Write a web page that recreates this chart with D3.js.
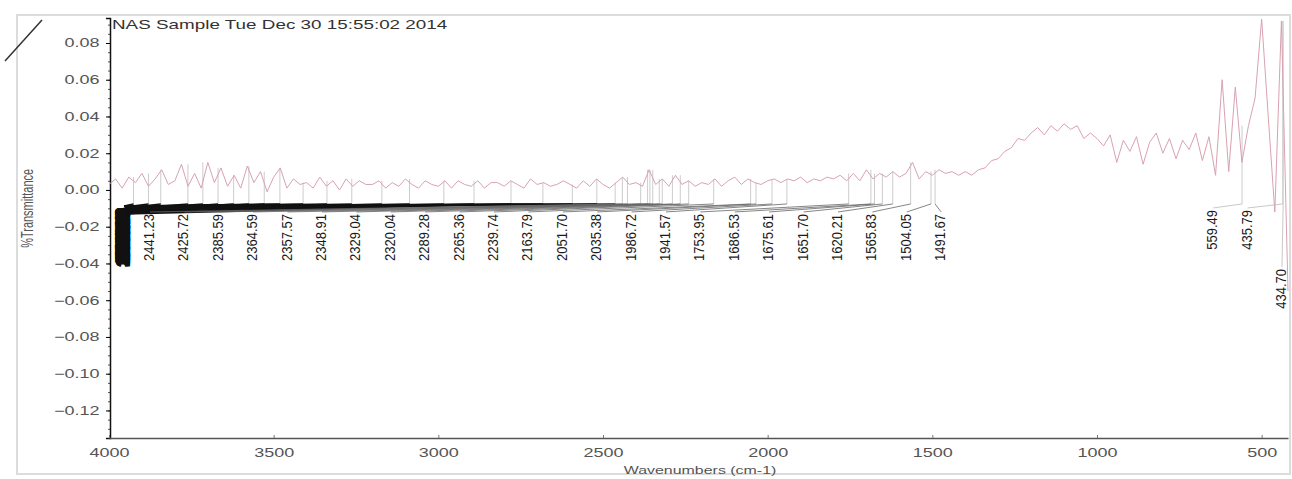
<!DOCTYPE html>
<html>
<head>
<meta charset="utf-8">
<script src="https://cdn.jsdelivr.net/npm/d3@7"></script>
<style>
  body { margin: 0; background: #fff; }
  text { font-family: "Liberation Sans", Arial, sans-serif; }
</style>
</head>
<body>
<div id="chart"></div>
<script>
// spectrum, one value every 20 cm-1 from 4000 down to 420
var wavenumbers = d3.range(4000, 419, -20);
var transmittance = [
  0.003, 0.006, 0.001, 0.007, 0.004, 0.009, 0.002, 0.006, 0.011, 0.003,
  0.005, 0.014, 0.002, 0.009, 0.001, 0.015, 0.004, 0.012, 0.002, 0.008,
  0.001, 0.013, 0.004, 0.010, -0.001, 0.007, 0.012, 0.001, 0.006, 0.003,
  0.004, 0.001, 0.007, 0.002, 0.005, 0.000, 0.006, 0.002, 0.005, 0.003,
  0.003, 0.005, 0.001, 0.004, 0.002, 0.006, 0.003, 0.001, 0.005, 0.003,
  0.002, 0.005, 0.001, 0.005, 0.003, 0.002, 0.005, 0.001, 0.004, 0.004,
  0.002, 0.005, 0.003, 0.001, 0.006, 0.003, 0.004, 0.002, 0.003, 0.005,
  0.003, 0.001, 0.005, 0.002, 0.006, 0.003, 0.001, 0.004, 0.007, 0.003,
  0.004, 0.002, 0.011, 0.003, 0.006, 0.002, 0.008, 0.003, 0.005, 0.002,
  0.004, 0.003, 0.006, 0.002, 0.005, 0.007, 0.003, 0.006, 0.004, 0.003,
  0.005, 0.006, 0.004, 0.006, 0.005, 0.007, 0.004, 0.006, 0.005, 0.007,
  0.006, 0.008, 0.005, 0.009, 0.005, 0.011, 0.006, 0.009, 0.007, 0.010,
  0.007, 0.009, 0.015, 0.006, 0.010, 0.008, 0.011, 0.009, 0.010, 0.008,
  0.010, 0.008, 0.011, 0.012, 0.016, 0.017, 0.021, 0.023, 0.028, 0.027,
  0.031, 0.034, 0.030, 0.035, 0.032, 0.036, 0.033, 0.035, 0.028, 0.031,
  0.028, 0.024, 0.030, 0.015, 0.027, 0.021, 0.029, 0.014, 0.026, 0.031,
  0.020, 0.028, 0.017, 0.027, 0.022, 0.031, 0.016, 0.029, 0.008, 0.060,
  0.010, 0.056, 0.015, 0.035, 0.050, 0.093, 0.040, -0.012, 0.092, -0.055
];

// labelled peaks
var leftPeaks = [2441.23, 2425.72, 2385.59, 2364.59, 2357.57, 2348.91, 2329.04, 2320.04,
  2289.28, 2265.36, 2239.74, 2163.79, 2051.70, 2035.38, 1986.72, 1941.57,
  1753.95, 1686.53, 1675.61, 1651.70, 1620.21, 1565.83, 1504.05, 1491.67];
var rightPeaks = [559.49, 435.79, 434.70];
// peaks whose labels are piled up at the left edge
var piledPeaks = [3925.46, 3880.12, 3842.77, 3760.31, 3715.08, 3668.94, 3621.50, 3575.27,
  3528.63, 3481.09, 3410.72, 3338.15, 3262.84, 3171.40, 3087.56, 2983.21,
  2891.67, 2779.35, 2682.48, 2593.12, 2518.76, 2463.05];

var xTicks = [4000, 3500, 3000, 2500, 2000, 1500, 1000, 500];
var yTicks = [-0.12, -0.10, -0.08, -0.06, -0.04, -0.02, 0.00, 0.02, 0.04, 0.06, 0.08];

var title = "NAS Sample Tue Dec 30 15:55:02 2014";

var W = 1292, H = 479;
var margin = {top: 18, right: 4, bottom: 41, left: 109};

var svg = d3.select("#chart").append("svg")
  .attr("width", W).attr("height", H);

var x = d3.scaleLinear().domain([4000, 420]).range([margin.left, W - margin.right]);
var y = d3.scaleLinear().domain([-0.135, 0.0936]).range([H - margin.bottom, margin.top]);

// outer frame and the stray mark at top-left
svg.append("rect")
  .attr("x", 17).attr("y", 15).attr("width", 1273).attr("height", 459)
  .attr("fill", "none").attr("stroke", "#dcdcdc").attr("stroke-width", 2);
svg.append("line")
  .attr("x1", 5).attr("y1", 61).attr("x2", 42).attr("y2", 20)
  .attr("stroke", "#333").attr("stroke-width", 1.5);

// axes
var yMinor = svg.append("g")
  .attr("transform", "translate(" + (margin.left + 1) + ",0)")
  .call(d3.axisLeft(y).tickValues(d3.range(-0.135, 0.094, 0.005)).tickSize(2).tickFormat(""));
yMinor.select(".domain").remove();
yMinor.selectAll("line").attr("stroke", "#555");

var yAxis = svg.append("g")
  .attr("transform", "translate(" + (margin.left + 1) + ",0)")
  .call(d3.axisLeft(y).tickValues(yTicks).tickSize(4).tickFormat(d3.format(".2f")));
yAxis.select(".domain").attr("stroke", "#111").attr("stroke-width", 1.5);
yAxis.selectAll("text")
  .attr("x", -7).attr("fill", "#555")
  .style("font-size", "12px")
  .attr("transform", "scale(1.5,1)");

var xAxis = svg.append("g")
  .attr("transform", "translate(0," + (H - margin.bottom) + ")")
  .call(d3.axisBottom(x).tickValues(xTicks).tickSizeInner(-3).tickSizeOuter(0).tickFormat(d3.format("d")));
xAxis.select(".domain").attr("stroke", "#555").attr("stroke-width", 1.5);
xAxis.selectAll("line").attr("stroke", "#777");
xAxis.selectAll("text")
  .attr("y", 10).attr("fill", "#555")
  .style("font-size", "12px")
  .attr("transform", "scale(1.5,1)");

svg.append("text")
  .attr("transform", "translate(" + 700 + "," + (H - 5) + ") scale(1.45,1)")
  .attr("text-anchor", "middle")
  .attr("fill", "#555")
  .style("font-size", "11px")
  .text("Wavenumbers (cm-1)");

svg.append("text")
  .attr("transform", "translate(33," + y(-0.01) + ") scale(1.5,1) rotate(-90)")
  .attr("text-anchor", "middle")
  .attr("fill", "#555")
  .style("font-size", "11px")
  .text("%Transmittance");

svg.append("text")
  .attr("transform", "translate(" + (margin.left + 3) + ",29) scale(1.45,1)")
  .attr("fill", "#333")
  .style("font-size", "13px")
  .text(title);

// peak helpers
var spec = wavenumbers.map((w, i) => ({w: w, v: transmittance[i]}));
function peakTop(w) {
  var near = spec.filter(d => Math.abs(d.w - w) <= 20);
  return d3.max(near, d => d.v);
}
var baseY = y(0) + 14;   // marker foot / leader end
var labelTop = y(0) + 24;

// grey peak markers
var allPeaks = piledPeaks.concat(leftPeaks, rightPeaks);
svg.append("g").selectAll("line")
  .data(allPeaks)
  .enter().append("line")
  .attr("x1", d => x(d)).attr("x2", d => x(d))
  .attr("y1", d => y(peakTop(d))).attr("y2", baseY)
  .attr("stroke", "#cccccc").attr("stroke-width", 1);

// spectrum
svg.append("path")
  .datum(spec)
  .attr("fill", "none")
  .attr("stroke", "#d9a2b0")
  .attr("stroke-width", 1)
  .attr("d", d3.line().x(d => x(d.w)).y(d => y(d.v)));

// label layout: left group packed from the left, right group from the right
var slot = 34.4;
var leftLab = leftPeaks.map((p, i) => ({p: p, lx: x(4000) + 41 + i * slot, top: labelTop, pile: false}));
var rightLab = rightPeaks.map((p, i) => ({
  p: p,
  lx: x(420) - 6 - (rightPeaks.length - 1 - i) * slot,
  top: i === rightPeaks.length - 1 ? labelTop + 55 : labelTop - 4,
  pile: false
}));
var pileLab = piledPeaks.map((p, i) => ({p: p, lx: x(4000) + 15 + (i % 3) * 0.7, top: y(0) + 18 + (i % 9), pile: true}));

var labels = pileLab.concat(leftLab, rightLab);

svg.append("g").selectAll("text")
  .data(labels)
  .enter().append("text")
  .attr("transform", d => "translate(" + (d.lx + 4) + "," + d.top + ") scale(1.15,1) rotate(-90)")
  .attr("text-anchor", "end")
  .attr("fill", "#1a1a1a")
  .attr("stroke", d => d.pile ? "#111" : "none")
  .attr("stroke-width", 1.5)
  .style("font-size", d => d.pile ? "14px" : "13px")
  .text(d => d.p.toFixed(2));

// leader lines from each label to its peak marker
svg.append("g").selectAll("line")
  .data(labels)
  .enter().append("line")
  .attr("x1", d => d.lx).attr("y1", d => d.top - 2)
  .attr("x2", d => x(d.p)).attr("y2", baseY)
  .attr("stroke", d => d.pile ? "#111" : (d.p > 1000 ? "#666" : "#bbb"))
  .attr("stroke-width", d => d.pile ? 1.6 : 0.8);
</script>
</body>
</html>
